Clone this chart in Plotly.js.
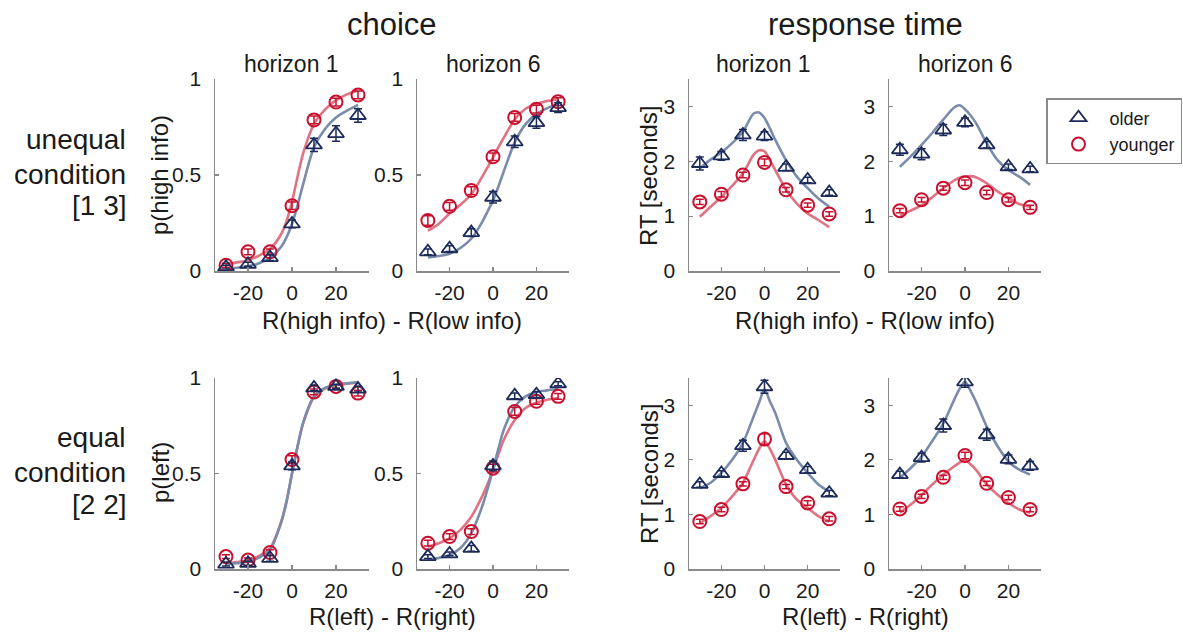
<!DOCTYPE html>
<html><head><meta charset="utf-8">
<script src="https://cdn.plot.ly/plotly-3.0.1.min.js"></script>
<style>html,body{margin:0;padding:0;background:#fff;}#chart{width:1183px;height:632px;}</style>
</head><body><div id="chart"></div>
<script>
// ---- data ----
const xs = [-30, -20, -10, 0, 10, 20, 30];
const fitX = [-30, -25, -20, -15, -10, -5, -2.5, 0, 2.5, 5, 10, 15, 20, 25, 30];
const xTicks = [-20, 0, 20];
const pTicks = [0, 0.5, 1];
const pTickText = ['0', '0.5', '1'];
const rtTicks = [0, 1, 2, 3];

// choice, unequal, horizon 1
const chU1Old = [0.02, 0.035, 0.07, 0.245, 0.657, 0.716, 0.81];
const chU1OldErr = [0.01, 0.01, 0.015, 0.02, 0.035, 0.04, 0.035];
const chU1Young = [0.03, 0.10, 0.10, 0.34, 0.787, 0.88, 0.917];
const chU1YoungErr = [0.01, 0.015, 0.015, 0.02, 0.02, 0.02, 0.02];
const chU1OldFit = [0.012, 0.017, 0.024, 0.04, 0.07, 0.125, 0.175, 0.245, 0.34, 0.45, 0.645, 0.74, 0.80, 0.835, 0.865];
const chU1YoungFit = [0.035, 0.045, 0.055, 0.08, 0.115, 0.19, 0.26, 0.36, 0.49, 0.61, 0.765, 0.84, 0.89, 0.92, 0.94];
// choice, unequal, horizon 6
const chU6Old = [0.10, 0.116, 0.20, 0.384, 0.673, 0.773, 0.851];
const chU6OldErr = [0.015, 0.015, 0.02, 0.03, 0.03, 0.03, 0.025];
const chU6Young = [0.263, 0.337, 0.419, 0.595, 0.80, 0.843, 0.882];
const chU6YoungErr = [0.025, 0.02, 0.02, 0.02, 0.02, 0.02, 0.02];
const chU6OldFit = [0.07, 0.078, 0.09, 0.12, 0.168, 0.255, 0.31, 0.367, 0.44, 0.52, 0.67, 0.765, 0.817, 0.848, 0.868];
const chU6YoungFit = [0.21, 0.245, 0.30, 0.345, 0.40, 0.49, 0.54, 0.59, 0.645, 0.695, 0.79, 0.845, 0.87, 0.885, 0.895];
// RT, unequal, horizon 1
const rtU1Old = [1.96, 2.10, 2.48, 2.46, 1.89, 1.66, 1.43];
const rtU1OldErr = [0.12, 0.08, 0.1, 0.08, 0.06, 0.05, 0.05];
const rtU1Young = [1.26, 1.40, 1.75, 1.98, 1.48, 1.20, 1.04];
const rtU1YoungErr = [0.05, 0.05, 0.05, 0.06, 0.04, 0.04, 0.04];
const rtU1OldFit = [1.87, 2.03, 2.16, 2.33, 2.54, 2.87, 2.89, 2.79, 2.60, 2.39, 2.02, 1.72, 1.51, 1.32, 1.17];
const rtU1YoungFit = [0.99, 1.17, 1.35, 1.55, 1.78, 2.12, 2.20, 2.18, 2.02, 1.84, 1.48, 1.23, 1.05, 0.93, 0.80];
// RT, unequal, horizon 6
const rtU6Old = [2.21, 2.13, 2.57, 2.71, 2.30, 1.90, 1.86];
const rtU6OldErr = [0.1, 0.1, 0.1, 0.08, 0.06, 0.05, 0.05];
const rtU6Young = [1.10, 1.30, 1.51, 1.61, 1.43, 1.30, 1.16];
const rtU6YoungErr = [0.04, 0.04, 0.04, 0.05, 0.04, 0.04, 0.04];
const rtU6OldFit = [1.90, 2.09, 2.30, 2.52, 2.76, 2.98, 3.02, 2.95, 2.84, 2.70, 2.33, 2.02, 1.84, 1.72, 1.57];
const rtU6YoungFit = [1.01, 1.10, 1.20, 1.35, 1.51, 1.65, 1.70, 1.72, 1.73, 1.71, 1.60, 1.45, 1.33, 1.22, 1.17];
// choice, equal, horizon 1
const chE1Old = [0.026, 0.03, 0.056, 0.54, 0.948, 0.956, 0.942];
const chE1OldErr = [0.01, 0.01, 0.015, 0.02, 0.015, 0.01, 0.015];
const chE1Young = [0.065, 0.047, 0.086, 0.573, 0.927, 0.956, 0.921];
const chE1YoungErr = [0.01, 0.01, 0.015, 0.02, 0.015, 0.01, 0.015];
const chE1OldFit = [0.026, 0.03, 0.038, 0.06, 0.10, 0.24, 0.35, 0.50, 0.64, 0.764, 0.904, 0.948, 0.965, 0.972, 0.977];
const chE1YoungFit = [0.03, 0.036, 0.045, 0.068, 0.108, 0.245, 0.355, 0.50, 0.64, 0.76, 0.90, 0.945, 0.962, 0.97, 0.975];
// choice, equal, horizon 6
const chE6Old = [0.065, 0.079, 0.108, 0.54, 0.907, 0.913, 0.97];
const chE6OldErr = [0.01, 0.01, 0.015, 0.025, 0.015, 0.015, 0.01];
const chE6Young = [0.135, 0.17, 0.196, 0.528, 0.825, 0.878, 0.904];
const chE6YoungErr = [0.015, 0.015, 0.015, 0.02, 0.02, 0.015, 0.015];
const chE6OldFit = [0.05, 0.058, 0.073, 0.11, 0.187, 0.327, 0.42, 0.52, 0.63, 0.73, 0.85, 0.904, 0.927, 0.935, 0.942];
const chE6YoungFit = [0.117, 0.135, 0.16, 0.205, 0.274, 0.38, 0.445, 0.52, 0.60, 0.677, 0.78, 0.843, 0.87, 0.886, 0.895];
// RT, equal, horizon 1
const rtE1Old = [1.55, 1.75, 2.26, 3.34, 2.08, 1.82, 1.39];
const rtE1OldErr = [0.05, 0.05, 0.1, 0.12, 0.06, 0.06, 0.05];
const rtE1Young = [0.87, 1.09, 1.56, 2.38, 1.51, 1.21, 0.92];
const rtE1YoungErr = [0.04, 0.04, 0.04, 0.1, 0.04, 0.04, 0.04];
const rtE1OldFit = [1.48, 1.58, 1.76, 2.0, 2.31, 2.80, 3.05, 3.29, 3.07, 2.86, 2.31, 2.0, 1.76, 1.55, 1.42];
const rtE1YoungFit = [0.84, 0.97, 1.12, 1.33, 1.58, 2.0, 2.2, 2.34, 2.2, 2.0, 1.55, 1.27, 1.12, 0.97, 0.87];
// RT, equal, horizon 6
const rtE6Old = [1.73, 2.04, 2.63, 3.43, 2.46, 2.01, 1.89];
const rtE6OldErr = [0.06, 0.08, 0.12, 0.1, 0.1, 0.08, 0.08];
const rtE6Young = [1.10, 1.33, 1.68, 2.08, 1.57, 1.31, 1.09];
const rtE6YoungErr = [0.04, 0.04, 0.04, 0.06, 0.04, 0.04, 0.04];
const rtE6OldFit = [1.67, 1.85, 2.06, 2.35, 2.67, 3.1, 3.3, 3.43, 3.27, 3.07, 2.61, 2.25, 1.97, 1.82, 1.73];
const rtE6YoungFit = [1.03, 1.18, 1.36, 1.55, 1.73, 1.88, 1.95, 2.0, 1.92, 1.82, 1.55, 1.36, 1.21, 1.09, 1.03];

// ---- styling ----
const W = 1183, H = 632;
const NAVY = '#1c2b5a', RED = '#c8102e', NAVY_FIT = '#7a8cab', RED_FIT = '#e07282';
const AXC = '#8a8a8a', TXT = '#1a1a1a';
const FONT = 'Liberation Sans, Arial, Helvetica, sans-serif';

const panels = [
  {old: chU1Old, oe: chU1OldErr, yg: chU1Young, ye: chU1YoungErr, of: chU1OldFit, yf: chU1YoungFit, rt: false, px: [215, 369], py: [79, 271]},
  {old: chU6Old, oe: chU6OldErr, yg: chU6Young, ye: chU6YoungErr, of: chU6OldFit, yf: chU6YoungFit, rt: false, px: [417, 569], py: [79, 271]},
  {old: rtU1Old, oe: rtU1OldErr, yg: rtU1Young, ye: rtU1YoungErr, of: rtU1OldFit, yf: rtU1YoungFit, rt: true, px: [689, 840], py: [79, 271]},
  {old: rtU6Old, oe: rtU6OldErr, yg: rtU6Young, ye: rtU6YoungErr, of: rtU6OldFit, yf: rtU6YoungFit, rt: true, px: [889, 1041], py: [79, 271]},
  {old: chE1Old, oe: chE1OldErr, yg: chE1Young, ye: chE1YoungErr, of: chE1OldFit, yf: chE1YoungFit, rt: false, px: [215, 369], py: [378, 569]},
  {old: chE6Old, oe: chE6OldErr, yg: chE6Young, ye: chE6YoungErr, of: chE6OldFit, yf: chE6YoungFit, rt: false, px: [417, 569], py: [378, 569]},
  {old: rtE1Old, oe: rtE1OldErr, yg: rtE1Young, ye: rtE1YoungErr, of: rtE1OldFit, yf: rtE1YoungFit, rt: true, px: [689, 840], py: [378, 569]},
  {old: rtE6Old, oe: rtE6OldErr, yg: rtE6Young, ye: rtE6YoungErr, of: rtE6OldFit, yf: rtE6YoungFit, rt: true, px: [889, 1041], py: [378, 569]},
];

const traces = [];
const layout = {
  width: W, height: H,
  margin: {l: 0, r: 0, t: 0, b: 0, autoexpand: false},
  paper_bgcolor: '#fff', plot_bgcolor: '#fff',
  font: {family: FONT, color: TXT},
  showlegend: true,
  legend: {x: 1046 / W, y: 1 - 98 / H, xanchor: 'left', yanchor: 'top',
           bordercolor: AXC, borderwidth: 1.5, bgcolor: '#fff',
           font: {size: 18, color: TXT, family: FONT}, itemwidth: 52, tracegroupgap: 0},
  annotations: []
};

panels.forEach((p, i) => {
  const n = i + 1;
  const xa = 'x' + (n === 1 ? '' : n), ya = 'y' + (n === 1 ? '' : n);
  traces.push({x: fitX, y: p.yf, xaxis: xa, yaxis: ya, mode: 'lines', line: {color: RED_FIT, width: 2.6, shape: 'spline', smoothing: 0.8}, showlegend: false, hoverinfo: 'skip'});
  traces.push({x: fitX, y: p.of, xaxis: xa, yaxis: ya, mode: 'lines', line: {color: NAVY_FIT, width: 2.6, shape: 'spline', smoothing: 0.8}, showlegend: false, hoverinfo: 'skip'});
  traces.push({x: xs, y: p.yg, xaxis: xa, yaxis: ya, mode: 'markers', name: 'younger', legendrank: 2,
    marker: {symbol: 'circle-open', size: 13, color: RED, line: {width: 2, color: RED}},
    error_y: {type: 'data', array: p.ye, visible: true, color: RED, thickness: 1.5, width: 4},
    showlegend: n === 1});
  traces.push({x: xs, y: p.old, xaxis: xa, yaxis: ya, mode: 'markers', name: 'older', legendrank: 1,
    marker: {symbol: 'triangle-up-open', size: 14, color: NAVY, line: {width: 1.8, color: NAVY}},
    error_y: {type: 'data', array: p.oe, visible: true, color: NAVY, thickness: 1.5, width: 4},
    showlegend: n === 1});
  const axBase = {showline: true, linecolor: AXC, linewidth: 1.5, showgrid: false, zeroline: false,
    ticks: 'inside', ticklen: 4, tickwidth: 1.2, tickcolor: AXC, tickfont: {size: 21, color: TXT, family: FONT}};
  layout['xaxis' + (n === 1 ? '' : n)] = Object.assign({}, axBase, {
    domain: [p.px[0] / W, p.px[1] / W], range: [-35, 35], anchor: ya, ticklabelstandoff: 2,
    tickmode: 'array', tickvals: xTicks, ticktext: xTicks.map(String)});
  layout['yaxis' + (n === 1 ? '' : n)] = Object.assign({}, axBase, {
    domain: [1 - p.py[1] / H, 1 - p.py[0] / H], anchor: xa, ticklabelstandoff: 8,
    range: p.rt ? [0, 3.5] : [0, 1],
    tickmode: 'array', tickvals: p.rt ? rtTicks : pTicks, ticktext: p.rt ? rtTicks.map(String) : pTickText});
});

function ann(text, px, py, size, opts) {
  layout.annotations.push(Object.assign({text: text, x: px / W, y: 1 - py / H, xref: 'paper', yref: 'paper',
    showarrow: false, xanchor: 'center', yanchor: 'middle', font: {size: size, color: TXT, family: FONT}}, opts || {}));
}
ann('choice', 392, 25, 31);
ann('response time', 865, 25, 31);
ann('horizon 1', 291, 64, 23);
ann('horizon 6', 493, 64, 23);
ann('horizon 1', 764, 64, 23);
ann('horizon 6', 965, 64, 23);
ann('unequal', 128, 139, 28, {xanchor: 'right'});
ann('condition', 128, 174, 28, {xanchor: 'right'});
ann('[1 3]', 128, 206, 28, {xanchor: 'right'});
ann('equal', 128, 437, 28, {xanchor: 'right'});
ann('condition', 128, 472, 28, {xanchor: 'right'});
ann('[2 2]', 128, 504, 28, {xanchor: 'right'});
ann('p(high info)', 160, 175, 24, {textangle: -90});
ann('p(left)', 160, 473, 24, {textangle: -90});
ann('RT [seconds]', 649, 175, 24, {textangle: -90});
ann('RT [seconds]', 649, 473, 24, {textangle: -90});
ann('R(high info) - R(low info)', 392, 320, 24);
ann('R(left) - R(right)', 392, 616, 24);
ann('R(high info) - R(low info)', 865, 320, 24);
ann('R(left) - R(right)', 865, 616, 24);

Plotly.newPlot('chart', traces, layout, {staticPlot: true, displayModeBar: false});
</script>
</body></html>
